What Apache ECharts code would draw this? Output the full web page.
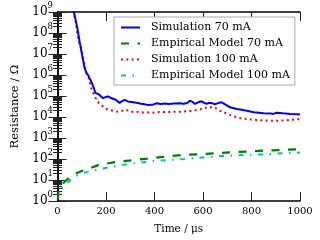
<!DOCTYPE html>
<html><head><meta charset="utf-8">
<script src="https://cdn.jsdelivr.net/npm/echarts@6/dist/echarts.min.js"></script>
<style>html,body{margin:0;padding:0;background:#fff}#c{width:320px;height:240px}</style>
</head><body><div id="c"></div>
<script>
const seriesNames = ['Simulation 70 mA', 'Empirical Model 70 mA', 'Simulation 100 mA', 'Empirical Model 100 mA'];
const xTicks = [0, 200, 400, 600, 800, 1000];

const timeSim70 = [66,75,82,91,101,112,119,126,132,139,150,156,165,174,182,188,198,208,218,229,240,256,265,277,290,305,326,345,360,374,390,409,425,443,460,480,505,520,535,546,557,567,580,594,605,615,625,636,649,662,677,695,711,740,760,780,810,849,880,890,904,930,960,993,1000];
const resSim70 = [1.2e9,4.0e8,1.7e8,4.0e7,9.3e6,2.1e6,1.3e6,1.0e6,7.1e5,5.0e5,2.4e5,1.4e5,1.3e5,1.1e5,1.12e5,7.9e4,8.9e4,9.5e4,8.3e4,7.4e4,6.6e4,4.7e4,5.6e4,6.6e4,5.5e4,5.2e4,4.8e4,4.3e4,4.0e4,3.7e4,3.8e4,4.5e4,4.2e4,4.4e4,4.2e4,4.4e4,4.5e4,4.3e4,4.6e4,6.0e4,5.2e4,4.2e4,5.0e4,5.6e4,4.7e4,4.3e4,4.7e4,4.6e4,4.0e4,4.6e4,5.0e4,3.8e4,2.9e4,2.4e4,2.2e4,2.0e4,1.7e4,1.5e4,1.45e4,1.4e4,1.6e4,1.5e4,1.4e4,1.35e4,1.3e4];

const timeSim100 = [66,75,82,90,98,105,112,120,129,139,146,153,162,170,180,188,198,208,229,245,263,284,300,320,340,360,380,402,420,450,480,512,540,560,588,605,625,643,655,670,690,710,739,770,800,821,860,904,940,970,986,1000];
const resSim100 = [1.2e9,3.5e8,8.3e7,3.2e7,1.95e7,7.1e6,2.6e6,1.1e6,7.2e5,2.4e5,1.5e5,9.5e4,6.5e4,4.7e4,3.7e4,3.2e4,2.6e4,2.2e4,2.0e4,1.8e4,1.9e4,2.2e4,1.8e4,1.8e4,1.7e4,1.6e4,1.7e4,1.6e4,1.75e4,1.7e4,1.8e4,1.8e4,1.9e4,2.0e4,2.3e4,2.8e4,2.75e4,3.1e4,2.6e4,2.0e4,1.6e4,1.26e4,9.5e3,8.3e3,7.6e3,7.2e3,6.8e3,6.6e3,6.9e3,7.4e3,7.8e3,7.9e3];

const timeEmp70 = [1.5,3,6,10,20,30,38,52,70,93,120,168,230,313,381,443,512,581,649,718,787,856,924,986,1000];
const resEmp70 = [1.26,2.3,3.2,4.0,6.3,8.3,10,14.5,19,25,32,51,69,89,107,129,155,166,186,209,229,251,269,288,295];

const timeEmp100 = [1.5,3,10,27,58,90,127,210,292,368,450,526,608,684,766,846,924,986,1000];
const resEmp100 = [1.26,1.95,3.2,5.1,12,19,25,40,58,74,89,100,120,138,155,166,186,200,204];

function pairs(t, r) { return t.map((v, i) => [v, r[i]]); }

const FONT = 'DejaVu Serif';
const chart = echarts.init(document.getElementById('c'), null, {renderer: 'canvas'});
const tickStyle = {color: '#222', width: 1};
const axisLine = {show: true, lineStyle: {color: '#000', width: 1.5}};
const yCommon = {
  type: 'log', logBase: 10, min: 1, max: 1e9, interval: 1,
  axisLine: axisLine, splitLine: {show: false},
  axisTick: {show: true, inside: true, length: 9, lineStyle: tickStyle},
  minorTick: {show: true, splitNumber: 9, length: 4.5, lineStyle: tickStyle},
  minorSplitLine: {show: false}
};
chart.setOption({
  animation: false,
  backgroundColor: '#fff',
  textStyle: {fontFamily: FONT},
  grid: {left: 57.5, right: 20, top: 12, bottom: 39},
  legend: {
    orient: 'vertical', left: 114, top: 17,
    data: seriesNames,
    backgroundColor: '#fff', borderColor: '#aaa', borderWidth: 1, borderRadius: 0,
    padding: [4, 5, 3, 6], itemGap: 3, itemWidth: 19, itemHeight: 8,
    itemStyle: {opacity: 0, borderWidth: 0},
    textStyle: {fontFamily: FONT, fontSize: 11, color: '#000', lineHeight: 13, padding: [0, 0, 0, 6]}
  },
  xAxis: [{
    type: 'value', min: 0, max: 1000, interval: 200,
    name: 'Time / μs', nameLocation: 'middle', nameGap: 23,
    nameTextStyle: {fontFamily: FONT, fontSize: 10.5, color: '#000'},
    axisLine: axisLine, splitLine: {show: false},
    axisTick: {show: true, inside: true, length: 9, lineStyle: tickStyle},
    axisLabel: {fontFamily: FONT, fontSize: 10, color: '#000', margin: 5,
      formatter: v => xTicks.includes(v) ? String(v) : ''}
  }, {
    type: 'value', min: 0, max: 1000, interval: 200, position: 'top',
    axisLine: axisLine, splitLine: {show: false},
    axisTick: {show: true, inside: true, length: 9, lineStyle: tickStyle},
    axisLabel: {show: false}
  }],
  yAxis: [Object.assign({}, yCommon, {
    name: 'Resistance / Ω', nameLocation: 'middle', nameGap: 30,
    nameTextStyle: {fontFamily: FONT, fontSize: 11.5, color: '#000'},
    axisLabel: {
      margin: 4.5, color: '#000', showMinLabel: true, showMaxLabel: true, hideOverlap: false,
      formatter: v => '{b|10}{s|' + Math.round(Math.log10(v)) + '}',
      rich: {
        b: {fontFamily: FONT, fontSize: 12, lineHeight: 12, color: '#000', verticalAlign: 'middle'},
        s: {fontFamily: FONT, fontSize: 8.5, lineHeight: 8.5, color: '#000', verticalAlign: 'middle', padding: [0, 0, 12, 0]}
      }
    }
  }), Object.assign({}, yCommon, {position: 'right', axisLabel: {show: false}})],
  series: [
    {name: seriesNames[0], type: 'line', data: pairs(timeSim70, resSim70), symbol: 'none',
      lineStyle: {color: '#0000ff', width: 2}, itemStyle: {color: '#0000ff'}, z: 4},
    {name: seriesNames[1], type: 'line', data: pairs(timeEmp70, resEmp70), symbol: 'none',
      lineStyle: {color: '#008000', width: 2.2, type: [8, 8.5]}, itemStyle: {color: '#008000'}, z: 3},
    {name: seriesNames[2], type: 'line', data: pairs(timeSim100, resSim100), symbol: 'none',
      lineStyle: {color: '#ff0000', width: 2, type: [2, 3.3]}, itemStyle: {color: '#ff0000'}, z: 3},
    {name: seriesNames[3], type: 'line', data: pairs(timeEmp100, resEmp100), symbol: 'none',
      lineStyle: {color: '#00bfbf', width: 2, type: [5, 6.5, 1.5, 6.5]}, itemStyle: {color: '#00bfbf'}, z: 2}
  ]
});
</script></body></html>
